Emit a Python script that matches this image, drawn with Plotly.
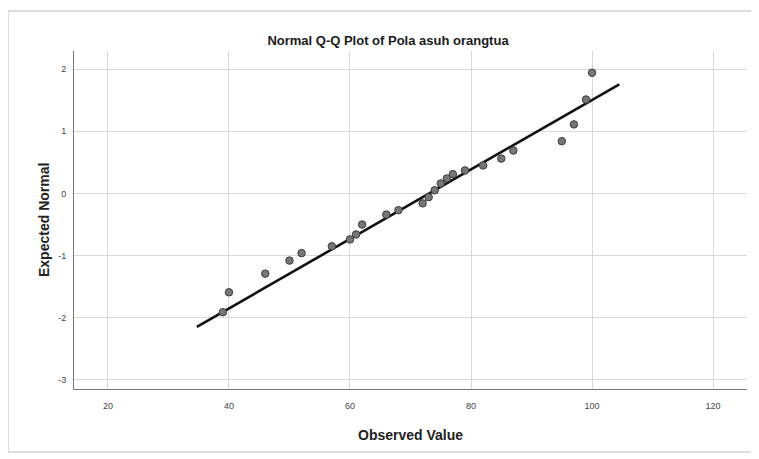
import plotly.graph_objects as go

observed = [39, 40, 46, 50, 52, 57, 60, 61, 62, 66, 68, 72, 73, 74, 75, 76, 77, 79, 82, 85, 87, 95, 97, 99, 100]
expected = [-1.91, -1.59, -1.29, -1.08, -0.96, -0.85, -0.74, -0.66, -0.50, -0.34, -0.27, -0.16, -0.06,
            0.05, 0.16, 0.24, 0.31, 0.37, 0.45, 0.56, 0.69, 0.84, 1.11, 1.51, 1.94]
line_mean = 73.1
line_sd = 17.9
line_x = [34.7, 104.5]
line_y = [(v - line_mean) / line_sd for v in line_x]

x_ticks = [20, 40, 60, 80, 100, 120]
y_ticks = [-3, -2, -1, 0, 1, 2]
y_tick_labels = ["-3", "-2", "-1", "0", "1", "2"]

FONT = "Liberation Sans, Arial, sans-serif"

# page body has an 8px margin; figure occupies the rest of the window
W, H = 751, 451
fig = go.Figure()
fig.add_trace(go.Scatter(x=line_x, y=line_y, mode="lines",
                         line=dict(color="#111111", width=2.6), hoverinfo="skip"))
fig.add_trace(go.Scatter(x=observed, y=expected, mode="markers",
                         marker=dict(size=7.5, color="#767676", line=dict(color="#3c3c3c", width=1))))

fig.update_layout(
    width=W, height=H,
    margin=dict(l=66, r=12, t=43, b=70),
    paper_bgcolor="white", plot_bgcolor="white",
    showlegend=False,
    font=dict(family=FONT),
    title=dict(text="<b>Normal Q-Q Plot of Pola asuh orangtua</b>", x=(388 - 74) / 673, xref="paper",
               y=1 - 32 / H, yref="container", yanchor="middle", xanchor="center",
               font=dict(size=13, color="#1a1a1a", family=FONT)),
    xaxis=dict(range=[14.4, 125.6], tickvals=x_ticks, showgrid=True, gridcolor="#d9d9d9", gridwidth=1,
               zeroline=False, showline=True, linecolor="#7a7a7a", linewidth=1,
               ticks="", tickfont=dict(size=9, color="#444444"), ticklabelstandoff=8),
    yaxis=dict(range=[-3.145, 2.29], tickvals=y_ticks, ticktext=y_tick_labels, showgrid=True,
               gridcolor="#d9d9d9", gridwidth=1,
               zeroline=False, showline=True, linecolor="#7a7a7a", linewidth=1,
               ticks="", tickfont=dict(size=9, color="#444444"), ticklabelstandoff=5),
)

fig.add_annotation(text="<b>Observed Value</b>", xref="paper", yref="paper", x=0.5,
                   y=(389 - 435) / 338, showarrow=False, yanchor="middle",
                   font=dict(size=14, color="#222222", family=FONT))
fig.add_annotation(text="<b>Expected Normal</b>", xref="paper", yref="paper",
                   x=(44 - 74) / 673, y=0.5, showarrow=False, textangle=-90, xanchor="center",
                   font=dict(size=14, color="#222222", family=FONT))

# Window frame around the chart, as in the screenshot
fig.add_shape(type="rect", xref="paper", yref="paper",
              x0=(8 - 74) / 673, x1=(770 - 74) / 673, y0=(389 - 452) / 338, y1=(389 - 11) / 338,
              line=dict(color="#d4d4d4", width=1.5), fillcolor="rgba(0,0,0,0)", layer="below")

fig.write_html("out.html")
